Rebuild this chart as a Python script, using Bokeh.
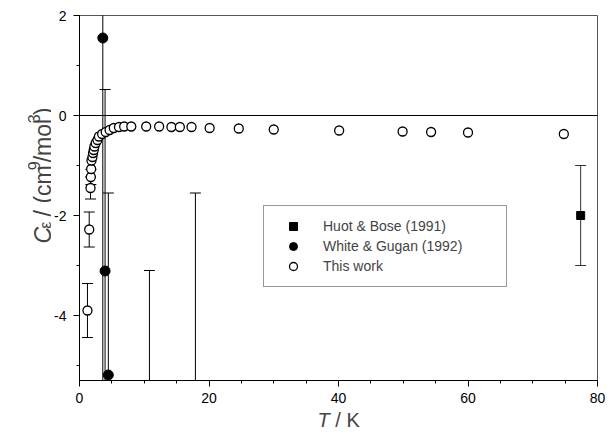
import math
from bokeh.plotting import figure
from bokeh.layouts import row, column
from bokeh.models import (Range1d, Span, Legend, LegendItem, Label, FixedTicker)
from bokeh.embed import file_html
from bokeh.resources import INLINE

# ---------------- data ----------------
# This work (open circles)
tw_T = [1.23, 1.50, 1.70, 1.75, 1.80, 1.85, 2.00, 2.10, 2.20, 2.30, 2.50, 2.77,
        3.00, 3.50, 4.05, 4.65, 5.30, 6.10, 6.90, 8.00, 10.3, 12.3, 14.2, 15.5,
        17.3, 20.1, 24.6, 30.0, 40.1, 49.9, 54.3, 60.0, 74.8]
tw_C = [-3.90, -2.28, -1.45, -1.23, -1.07, -0.90, -0.83, -0.75, -0.69, -0.62,
        -0.55, -0.49, -0.42, -0.37, -0.33, -0.29, -0.25, -0.23, -0.22, -0.22,
        -0.22, -0.22, -0.23, -0.23, -0.23, -0.25, -0.26, -0.28, -0.30, -0.32,
        -0.33, -0.34, -0.37]
tw_err = [0.54, 0.35, 0.22, 0.15, 0.10, 0.08, 0.06, 0.05, 0.04, 0.03, 0.03, 0.02,
          0.02, 0.02, 0.02, 0.02, 0.02, 0.02, 0.02, 0.02, 0.02, 0.02, 0.02, 0.02,
          0.02, 0.02, 0.02, 0.02, 0.02, 0.02, 0.02, 0.02, 0.02]

# Huot & Bose (1991)
hb_T = [77.4]
hb_C = [-2.0]
hb_err = [1.0]

# White & Gugan (1992)
wg_T = [3.60, 3.95, 4.45, 10.8, 17.9]
wg_C = [1.55, -3.11, -5.19, -10.0, -9.0]
wg_err = [7.5, 3.63, 3.64, 6.9, 7.45]

x_ticks = [0, 20, 40, 60, 80]
y_ticks = [-4, -2, 0, 2]

FONT = "Liberation Sans"

# ---------------- main figure ----------------
YL_W = 51
MAIN_W, MAIN_H = 559, 405
p = figure(width=MAIN_W, height=MAIN_H, x_range=Range1d(0, 80), y_range=Range1d(-5.3, 2),
           output_backend="svg", toolbar_location=None,
           min_border_left=77 - YL_W, min_border_right=MAIN_W - (77 - YL_W) - 520,
           min_border_top=15, min_border_bottom=25)
p.xgrid.visible = False
p.ygrid.visible = False
p.outline_line_color = "#555555"
p.outline_line_width = 1
p.background_fill_color = "white"
p.border_fill_color = "white"

p.xaxis.ticker = FixedTicker(ticks=x_ticks, minor_ticks=list(range(0, 81, 5)))
p.yaxis.ticker = FixedTicker(ticks=y_ticks, minor_ticks=list(range(-5, 3)))
p.yaxis.major_label_overrides = {t: str(t) for t in y_ticks}
p.xaxis.major_label_overrides = {t: str(t) for t in x_ticks}
for ax in (p.xaxis[0], p.yaxis[0]):
    ax.major_tick_in = 0
    ax.major_tick_out = 6
    ax.minor_tick_in = 0
    ax.minor_tick_out = 3
    ax.axis_line_color = "black"
    ax.major_tick_line_color = "black"
    ax.minor_tick_line_color = "black"
    ax.major_label_text_font = FONT
    ax.major_label_text_font_size = "14px"
    ax.major_label_text_color = "black"
p.xaxis.major_label_standoff = 6
p.yaxis.major_label_standoff = 7

p.add_layout(Span(location=0, dimension="width", line_color="black", line_width=1))


def errbars(T, C, E, color="black"):
    lo = [c - e for c, e in zip(C, E)]
    hi = [c + e for c, e in zip(C, E)]
    p.segment(x0=T, y0=lo, x1=T, y1=hi, line_color=color, line_width=1)
    p.scatter(T + T, lo + hi, marker="dash", size=11, line_color=color, line_width=1)


errbars(tw_T[:4], tw_C[:4], tw_err[:4])
errbars(hb_T, hb_C, hb_err, color="#333333")
errbars(wg_T, wg_C, wg_err)

r_wg = p.scatter(wg_T, wg_C, marker="circle", size=10, fill_color="black",
                 line_color="black")
r_tw = p.scatter(tw_T, tw_C, marker="circle", size=9, fill_color="white",
                 line_color="black", line_width=1.3)
r_hb = p.scatter(hb_T, hb_C, marker="square", size=8, fill_color="black",
                 line_color="black")

legend = Legend(items=[LegendItem(label="Huot & Bose (1991)", renderers=[r_hb]),
                       LegendItem(label="White & Gugan (1992)", renderers=[r_wg]),
                       LegendItem(label="This work", renderers=[r_tw])],
                location=(184, 93), margin=0, padding=10, spacing=0,
                glyph_width=38, glyph_height=20, label_height=20,
                label_standoff=11, label_width=173,
                label_text_font=FONT, label_text_font_size="14px",
                border_line_color="#333333", border_line_width=1,
                background_fill_alpha=1.0)
p.add_layout(legend)


def text_fig(w, h):
    f = figure(width=w, height=h, x_range=Range1d(0, w), y_range=Range1d(0, h),
               output_backend="svg", toolbar_location=None,
               x_axis_type=None, y_axis_type=None,
               min_border=0, min_border_left=0, min_border_right=0,
               min_border_top=0, min_border_bottom=0)
    f.outline_line_color = None
    f.xgrid.visible = False
    f.ygrid.visible = False
    f.background_fill_color = "white"
    f.border_fill_color = "white"
    return f


# ---------------- y title (left strip) ----------------
F = 23
S = 16
ylab = text_fig(YL_W, MAIN_H)
# (text, font size, style, space before [em], text width [em], baseline shift [em of F])
pieces = [("C", F, "italic", 0.0, 0.722, 0.0),
          ("ε", S, "normal", 0.0, 0.45, -0.14),
          ("/ (cm", F, "normal", 0.278, 0.278 * 2 + 0.333 + 0.5 + 0.833, 0.0),
          ("9", S, "normal", 0.0, 0.556, 0.37),
          ("/mol", F, "normal", 0.0, 0.278 + 0.833 + 0.556 + 0.222, 0.0),
          ("3", S, "normal", 0.0, 0.556, 0.37),
          (")", F, "normal", 0.0, 0.333, 0.0)]
total = sum(sz * (b + w) for _, sz, _, b, w, _ in pieces)
center_y = 178       # page pixel
baseline_x = 42      # page pixel
pos = center_y + total / 2
for txt, sz, style, before, w, shift in pieces:
    pos -= sz * before
    ylab.add_layout(Label(x=baseline_x - shift * F, y=MAIN_H - pos, text=txt,
                          text_font=FONT, text_font_style=style,
                          text_font_size=f"{sz}px", angle=math.pi / 2,
                          text_align="left", text_baseline="alphabetic"))
    pos -= sz * w

# ---------------- x title (bottom strip) ----------------
FX = 20
XL_H = 28
xlab = text_fig(YL_W + MAIN_W, XL_H)
xt_start = 317
xt_mid = 419
w_T = 0.611 * FX
w_sp = 0.278 * FX
xlab.add_layout(Label(x=xt_start, y=MAIN_H + XL_H - xt_mid, text="T", text_font=FONT,
                      text_font_style="italic", text_font_size=f"{FX}px",
                      text_align="left", text_baseline="middle"))
xlab.add_layout(Label(x=xt_start + w_T + w_sp, y=MAIN_H + XL_H - xt_mid, text="/ K",
                      text_font=FONT, text_font_size=f"{FX}px", text_align="left",
                      text_baseline="middle"))

layout = column(row(ylab, p, spacing=0), xlab, spacing=0)
open("out.html", "w").write(file_html(layout, INLINE))
